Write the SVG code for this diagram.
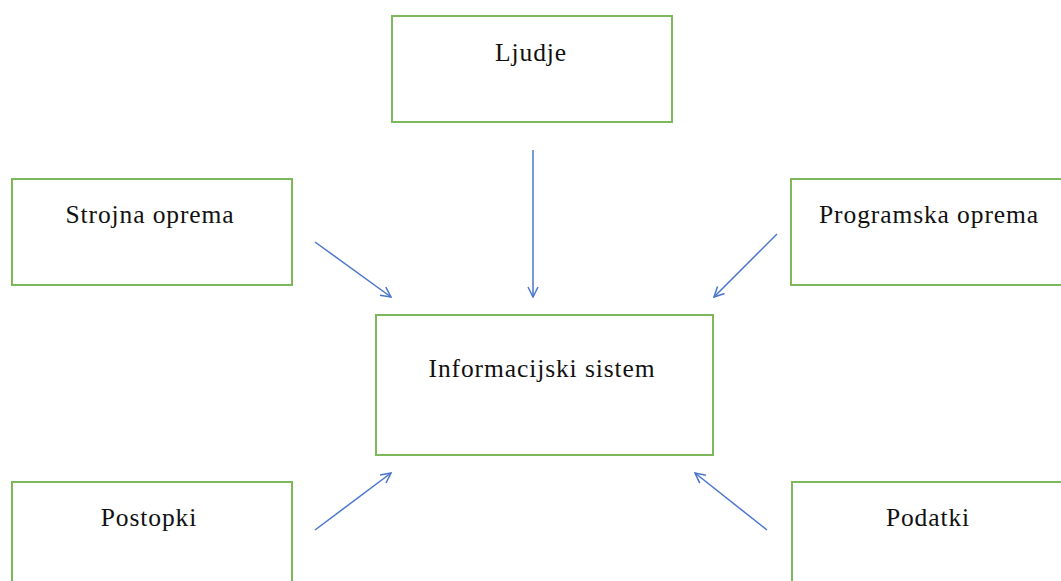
<svg xmlns="http://www.w3.org/2000/svg" width="1061" height="581" viewBox="0 0 1061 581">
<style>
.box{fill:#fff;stroke:#7DB85A;stroke-width:2}
.lbl{font-family:"Liberation Serif","Times New Roman",serif;font-size:25.5px;fill:#111;text-anchor:middle;letter-spacing:0.9px}
.con{stroke:#4A76CC;stroke-width:1.5;fill:none;marker-end:url(#arr)}
</style>
<defs>
<marker id="arr" viewBox="0 0 12 12" refX="11" refY="6" markerWidth="12" markerHeight="12" markerUnits="userSpaceOnUse" orient="auto">
<path d="M1,1 L11,6 L1,11" fill="none" stroke="#4A76CC" stroke-width="1.5"/>
</marker>
</defs>
<rect width="1061" height="581" fill="#fff"/>
<g id="connectors">
<line class="con" x1="533" y1="150" x2="533" y2="297"/>
<line class="con" x1="315" y1="242" x2="391" y2="297"/>
<line class="con" x1="777" y1="234" x2="714" y2="297"/>
<line class="con" x1="315" y1="530" x2="391" y2="473"/>
<line class="con" x1="767" y1="530" x2="695" y2="473"/>
</g>
<g id="ljudje"><rect class="box" x="392" y="16" width="280" height="106"/><text class="lbl" x="531" y="61">Ljudje</text></g>
<g id="strojna"><rect class="box" x="12" y="179" width="280" height="106"/><text class="lbl" x="150" y="223">Strojna oprema</text></g>
<g id="programska"><rect class="box" x="791" y="179" width="282" height="106"/><text class="lbl" x="929" y="223">Programska oprema</text></g>
<g id="informacijski"><rect class="box" x="376" y="315" width="337" height="140"/><text class="lbl" x="542" y="377">Informacijski sistem</text></g>
<g id="postopki"><rect class="box" x="12" y="482" width="280" height="106"/><text class="lbl" x="149" y="526">Postopki</text></g>
<g id="podatki"><rect class="box" x="792" y="482" width="280" height="106"/><text class="lbl" x="928" y="526">Podatki</text></g>
</svg>
